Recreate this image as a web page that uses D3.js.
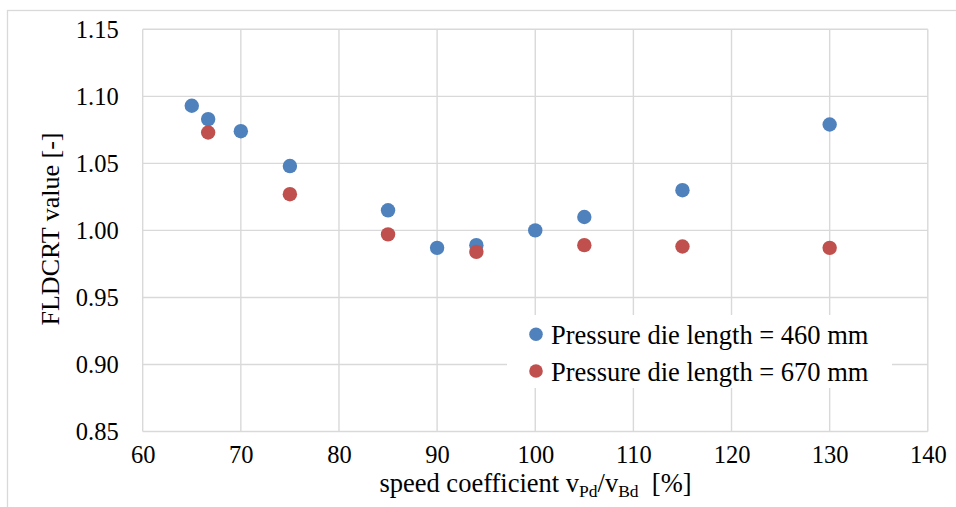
<!DOCTYPE html>
<html><head><meta charset="utf-8">
<script src="https://cdn.jsdelivr.net/npm/d3@7"></script>
<style>body{margin:0;background:#fff}svg{display:block}</style>
</head><body>
<script>
const xTicks = [60,70,80,90,100,110,120,130,140];
const yTicks = [0.85,0.90,0.95,1.00,1.05,1.10,1.15];
const seriesNames = ["Pressure die length = 460 mm","Pressure die length = 670 mm"];
const seriesColors = ["#4F81BD","#C0504D"];
const x460 = [65,66.67,70,75,85,90,94,100,105,115,130];
const y460 = [1.093,1.083,1.074,1.048,1.015,0.987,0.989,1.000,1.010,1.030,1.079];
const x670 = [66.67,75,85,94,105,115,130];
const y670 = [1.073,1.027,0.997,0.984,0.989,0.988,0.987];

const W=956,H=507;
const svg=d3.select("body").append("svg").attr("width",W).attr("height",H);
const font="'Liberation Serif','Times New Roman',serif";
svg.append("rect").attr("x",7.5).attr("y",10.5).attr("width",1200).attr("height",800)
  .attr("fill","none").attr("stroke","#d9d9d9").attr("stroke-width",1.3);

const x=d3.scaleLinear().domain([60,140]).range([142.7,927.8]);
const y=d3.scaleLinear().domain([0.85,1.15]).range([431.5,29.3]);

const g=svg.append("g");
g.selectAll("line.v").data(xTicks).join("line").attr("class","v")
  .attr("x1",d=>x(d)).attr("x2",d=>x(d)).attr("y1",y(0.85)).attr("y2",y(1.15))
  .attr("stroke","#d9d9d9").attr("stroke-width",1.4);
g.selectAll("line.h").data(yTicks).join("line").attr("class","h")
  .attr("y1",d=>y(d)).attr("y2",d=>y(d)).attr("x1",x(60)).attr("x2",x(140))
  .attr("stroke","#d9d9d9").attr("stroke-width",1.4);

const xAxis=d3.axisBottom(x).tickValues(xTicks).tickSize(0).tickPadding(14).tickFormat(d3.format("d"));
const xa=svg.append("g").attr("transform",`translate(0,${y(0.85)})`).call(xAxis);
xa.select(".domain").remove();
xa.selectAll("text").attr("font-family",font).attr("font-size",24.5).attr("fill","#000").attr("dy","0.71em");

const yAxis=d3.axisLeft(y).tickValues(yTicks).tickSize(0).tickPadding(24).tickFormat(d3.format(".2f"));
const ya=svg.append("g").attr("transform",`translate(${x(60)},0)`).call(yAxis);
ya.select(".domain").remove();
ya.selectAll("text").attr("font-family",font).attr("font-size",24.5).attr("fill","#000").attr("dy","0.34em");

// legend background
svg.append("rect").attr("x",507).attr("y",315).attr("width",385).attr("height",73).attr("fill","#fff");

const s460=x460.map((v,i)=>({x:v,y:y460[i]}));
const s670=x670.map((v,i)=>({x:v,y:y670[i]}));
svg.append("g").selectAll("circle").data(s460).join("circle")
  .attr("cx",d=>x(d.x)).attr("cy",d=>y(d.y)).attr("r",7.2).attr("fill",seriesColors[0]);
svg.append("g").selectAll("circle").data(s670).join("circle")
  .attr("cx",d=>x(d.x)).attr("cy",d=>y(d.y)).attr("r",7.2).attr("fill",seriesColors[1]);

const lg=svg.append("g");
seriesNames.forEach((n,i)=>{
  lg.append("circle").attr("cx",536).attr("cy",334.3+i*36.7).attr("r",6.8).attr("fill",seriesColors[i]);
  lg.append("text").attr("x",551).attr("y",344+i*36.5).attr("font-family",font).attr("font-size",26.5).attr("fill","#000").text(n);
});

// y title
svg.append("text").attr("transform",`translate(59,229) rotate(-90)`).attr("text-anchor","middle")
  .attr("font-family",font).attr("font-size",26).attr("fill","#000").text("FLDCRT value [-]");

// x title
const xt=svg.append("text").attr("x",535.5).attr("y",492).attr("text-anchor","middle")
  .attr("font-family",font).attr("font-size",26.5).attr("fill","#000");
xt.append("tspan").text("speed coefficient v");
xt.append("tspan").attr("font-size",17.5).attr("dy",5).text("Pd");
xt.append("tspan").attr("dy",-5).text("/v");
xt.append("tspan").attr("font-size",17.5).attr("dy",5).text("Bd");
xt.append("tspan").attr("dy",-5).text("\u00a0\u00a0[%]");
</script>
</body></html>
